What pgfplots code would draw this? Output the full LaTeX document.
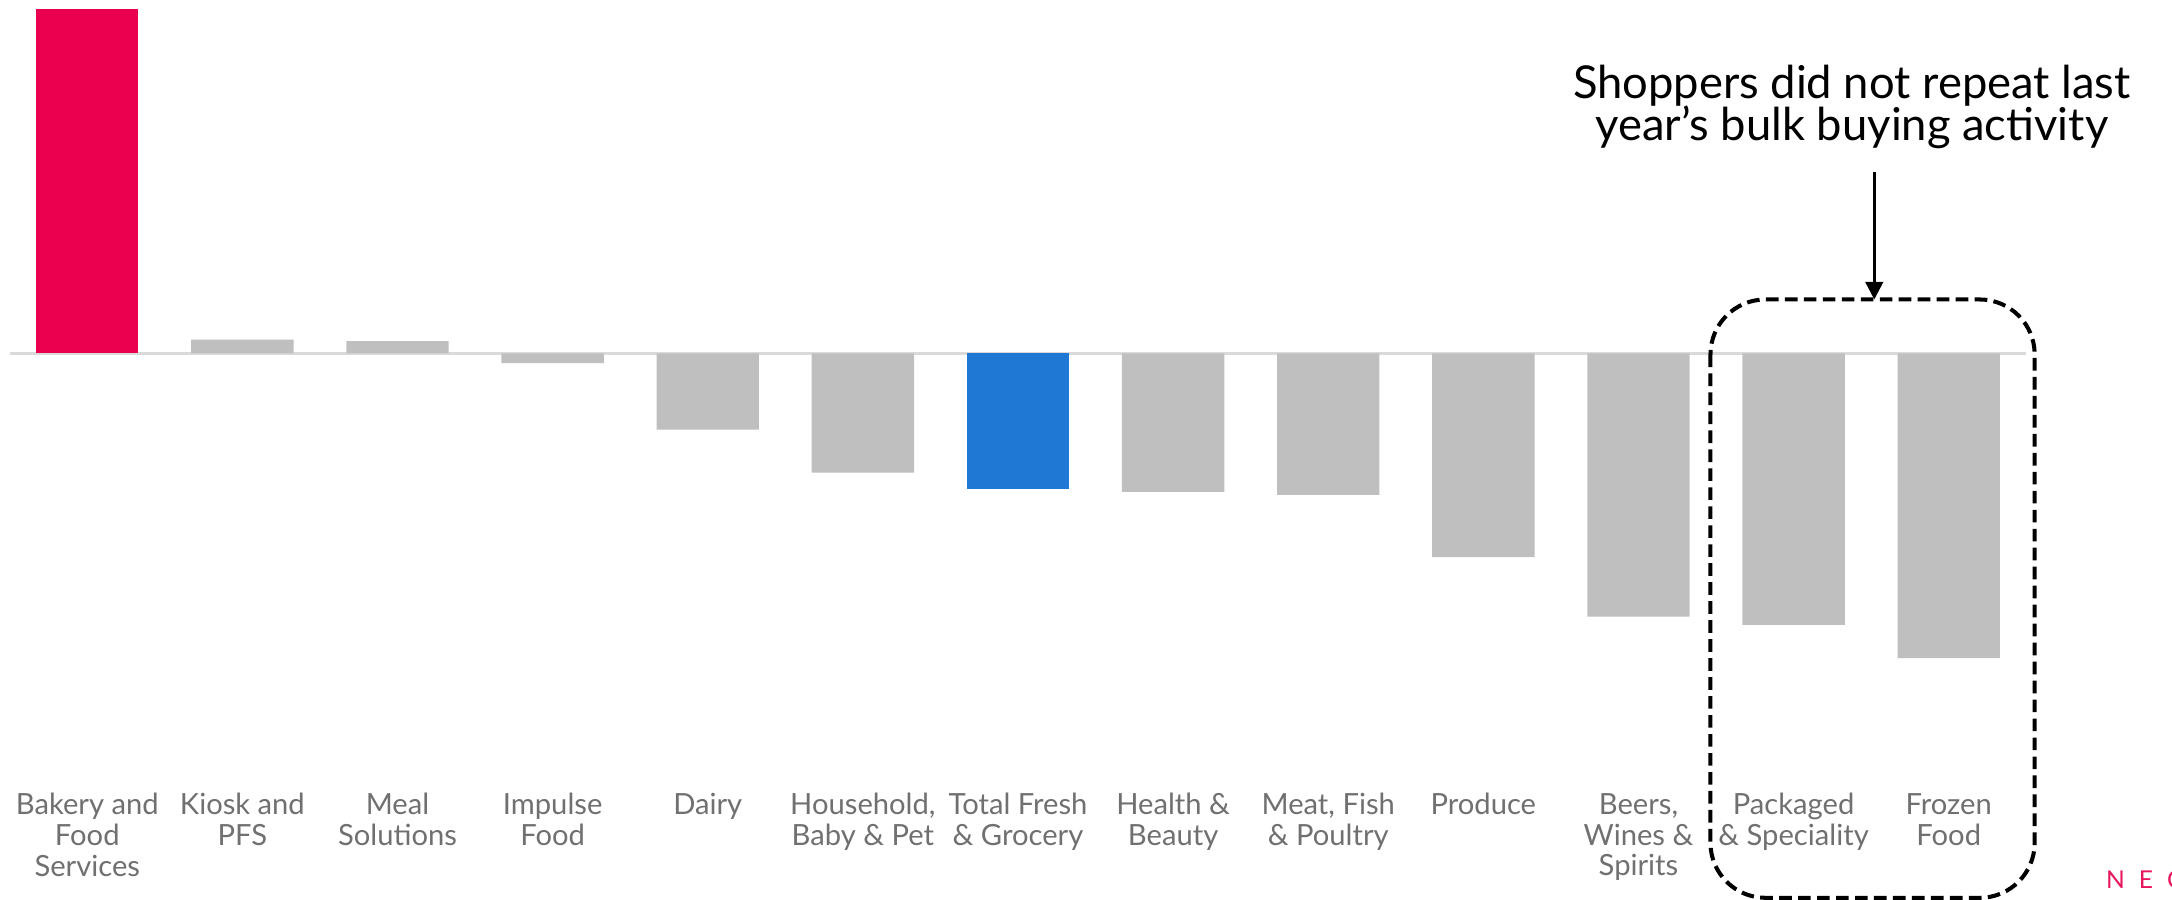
\documentclass[border=0pt]{standalone}
\usepackage{pgfplots}
\pgfplotsset{compat=1.18}
\usetikzlibrary{arrows.meta}
\usepackage{fontspec}
\setmainfont{Lato}
\definecolor{barred}{HTML}{EA004E}
\definecolor{barblue}{HTML}{1F78D4}
\definecolor{bargray}{HTML}{BFBFBF}
\definecolor{lblgray}{HTML}{707070}
\definecolor{logopink}{HTML}{E8175D}
\definecolor{basegray}{HTML}{DADADA}
\begin{document}
\begin{tikzpicture}
\useasboundingbox (-0.97mm,-13.1mm) rectangle (216.23mm,76.9mm);
\begin{axis}[
  scale only axis,
  width=201.66mm, height=76.87mm,
  xmin=-0.5, xmax=12.5, ymin=-30, ymax=25.5,
  clip=false,
  axis line style={draw=none},
  major tick length=0pt,
  ytick=\empty,
  xtick={0,1,2,3,4,5,6,7,8,9,10,11,12},
  xticklabels={
    {Bakery and\\Food\\Services},
    {Kiosk and\\PFS},
    {Meal\\Solutions},
    {Impulse\\Food},
    {Dairy},
    {Household,\\Baby \& Pet},
    {Total Fresh\\\& Grocery},
    {Health \&\\Beauty},
    {Meat, Fish\\\& Poultry},
    {Produce},
    {Beers,\\Wines \&\\Spirits},
    {Packaged\\\& Speciality},
    {Frozen\\Food}},
  xticklabel style={align=center, anchor=north, inner sep=0pt, yshift=-2.35mm,
    font=\fontsize{8.3}{8.8}\selectfont, text=lblgray},
  ybar, bar width=0.66,
]
\draw[basegray, line width=1pt] (axis cs:-0.5,0) -- (axis cs:12.5,0);
\addplot[fill=barred, draw=none, bar shift=0pt] coordinates {(0,24.9)};
\addplot[fill=bargray, draw=none, bar shift=0pt] coordinates {
  (1,1.0) (2,0.9) (3,-0.7) (4,-5.5) (5,-8.6)
  (7,-10.0) (8,-10.2) (9,-14.7) (10,-19.0) (11,-19.6) (12,-22.0)};
\addplot[fill=barblue, draw=none, bar shift=0pt] coordinates {(6,-9.8)};

\node[align=center, font=\fontsize{12.9}{12.2}\selectfont, text=black] at (axis cs:11.375,17.8)
  {Shoppers did not repeat last\\year's bulk buying activity};
\draw[-{Triangle[length=5pt,width=5pt]}, line width=0.8pt] (axis cs:11.52,13.1) -- (axis cs:11.52,3.9);
\draw[line width=1.15pt, rounded corners=5.5mm, dash pattern=on 3.6pt off 1.8pt]
  (axis cs:10.464,3.9) rectangle (axis cs:12.554,-39.3);
\node[anchor=west, inner sep=0pt, text=logopink, font=\fontsize{7}{8}\selectfont]
  at (axis cs:13.01,-38) {N\hspace{4pt}E\hspace{4pt}C};
\end{axis}
\end{tikzpicture}
\end{document}
